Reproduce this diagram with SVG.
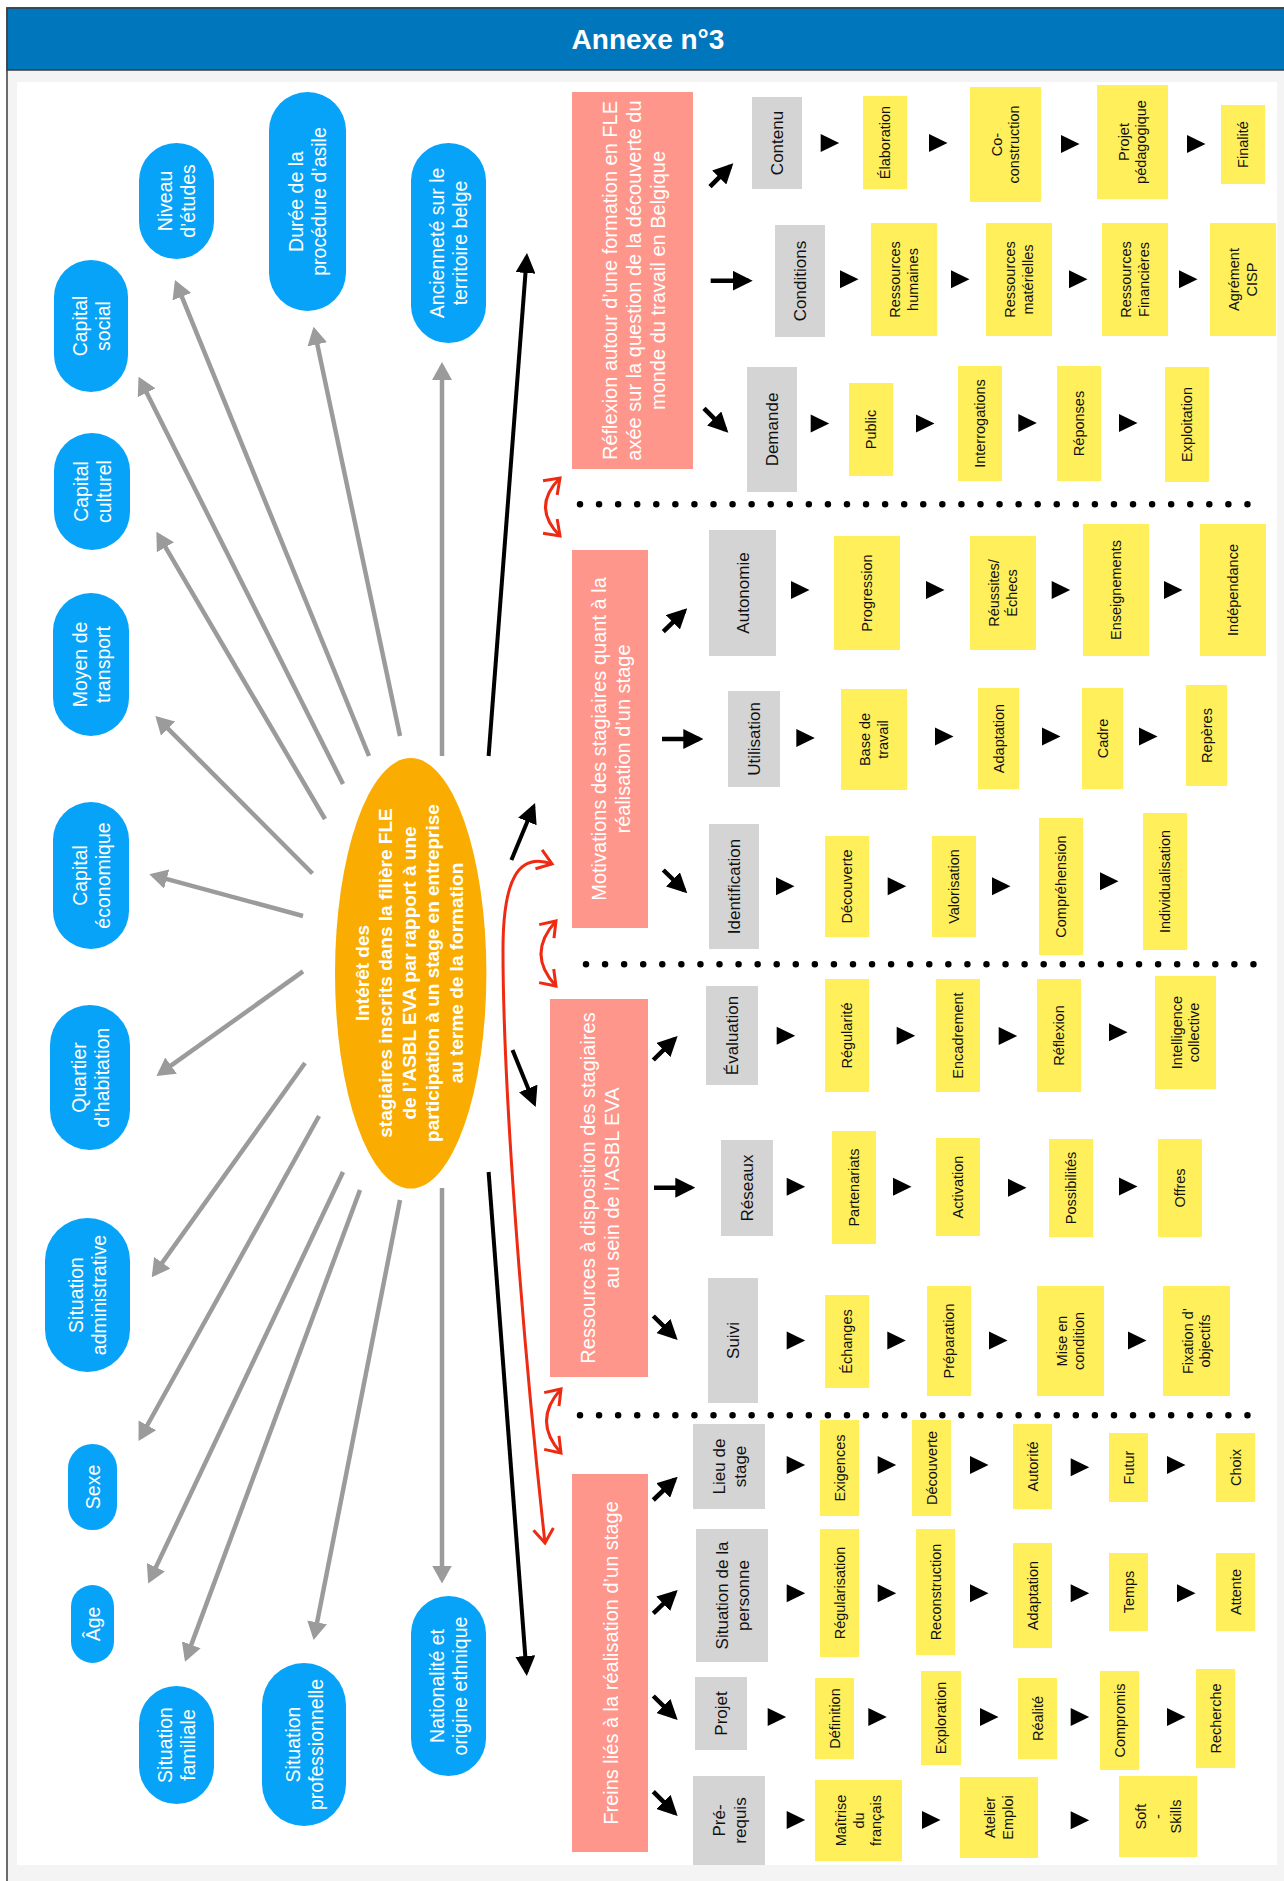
<svg xmlns="http://www.w3.org/2000/svg" width="1284" height="1881" viewBox="0 0 1284 1881">
<style>
.t{font-family:"Liberation Sans",Arial,Helvetica,sans-serif;text-anchor:middle}
.tw{fill:#fff}
.tk{fill:#111}
.fbl{font-size:19.5px}
.fpk{font-size:20px}
.fgr{font-size:17px}
.fye{font-size:14.5px}
.fel{font-size:19px;font-weight:bold}
.blue{fill:#06A3F9}
.pink{fill:#FE968B}
.gray{fill:#D4D4D4}
.yel{fill:#FFEF5B}
.ga{stroke:#9B9B9B;stroke-width:4.5;fill:none;marker-end:url(#mg)}
.ba{stroke:#000;stroke-width:4;fill:none;marker-end:url(#mb)}
.sa{stroke:#000;stroke-width:4.5;fill:none;marker-end:url(#mb)}
.ra{stroke:#EE2B12;stroke-width:3;fill:none;marker-start:url(#mr);marker-end:url(#mr)}
.dots{stroke:#000;stroke-width:6.5;stroke-linecap:round;stroke-dasharray:0 19.07;fill:none}
</style>
<defs>
<marker id="mg" viewBox="0 0 18 20" refX="14" refY="10" markerWidth="18" markerHeight="20" markerUnits="userSpaceOnUse" orient="auto"><path d="M0,0 L18,10 L0,20 z" fill="#9B9B9B"/></marker>
<marker id="mb" viewBox="0 0 20 20" refX="16" refY="10" markerWidth="20" markerHeight="20" markerUnits="userSpaceOnUse" orient="auto"><path d="M0,0 L20,10 L0,20 z" fill="#000"/></marker>
<marker id="mr" viewBox="-3 -3 22 26" refX="14" refY="10" markerWidth="22" markerHeight="26" markerUnits="userSpaceOnUse" orient="auto-start-reverse"><path d="M0,0 L14,10 L0,20" fill="none" stroke="#EE2B12" stroke-width="3"/></marker>
<path id="tri" d="M0,-9 L18.5,0 L0,9 z" fill="#000"/>
</defs>

<!-- page frame -->
<rect x="0" y="0" width="1284" height="1881" fill="#fff"/>
<rect x="7" y="8" width="1290" height="1885" fill="#F4F4F4" stroke="#3C3C3C" stroke-width="1.5"/>
<rect x="7" y="8" width="1290" height="62" fill="#0076BC" stroke="#3C3C3C" stroke-width="1.5"/>
<text class="t tw" x="648" y="49" style="font-size:28px;font-weight:bold">Annexe n°3</text>
<rect x="17" y="82" width="1260" height="1783" fill="#fff"/>

<!-- connectors -->
<g id="connectors">
  <!-- grey arrows from the centre to the factors -->
  <line class="ga" x1="369" y1="756" x2="176.5" y2="283.7"/>
  <line class="ga" x1="343" y1="784" x2="140.4" y2="380.3"/>
  <line class="ga" x1="400" y1="736" x2="314.4" y2="330.6"/>
  <line class="ga" x1="442" y1="756" x2="442" y2="366"/>
  <line class="ga" x1="325" y1="819" x2="158.4" y2="535.2"/>
  <line class="ga" x1="312.5" y1="873.5" x2="158.2" y2="718.8"/>
  <line class="ga" x1="303" y1="916" x2="153.2" y2="875.3"/>
  <line class="ga" x1="303" y1="971.4" x2="159.7" y2="1073.7"/>
  <line class="ga" x1="305" y1="1063" x2="154.1" y2="1274.1"/>
  <line class="ga" x1="319" y1="1116" x2="140.5" y2="1437.5"/>
  <line class="ga" x1="343" y1="1172" x2="149.9" y2="1579.9"/>
  <line class="ga" x1="360" y1="1190" x2="186.4" y2="1657.9"/>
  <line class="ga" x1="400" y1="1200" x2="314.4" y2="1636.1"/>
  <line class="ga" x1="442" y1="1188" x2="442" y2="1579.5"/>
  <!-- black arrows from the centre to the four themes -->
  <line class="ba" x1="488.6" y1="756" x2="526.7" y2="257"/>
  <line class="ba" x1="488.6" y1="1172" x2="526.5" y2="1672"/>
  <line class="ba" x1="511.4" y1="860" x2="533.5" y2="806.7"/>
  <line class="ba" x1="512.5" y1="1050" x2="534.2" y2="1103.3"/>
  <!-- red links between themes -->
  <path class="ra" d="M560,478 Q531,507 560,536"/>
  <path class="ra" d="M556,921 Q526,954 556,986"/>
  <path class="ra" d="M561,1389 Q532,1421 561,1453"/>
  <path class="ra" d="M552,864 C518,852 503,880 503,950 C503,1110 528,1390 545,1543"/>
  <!-- dotted separators -->
  <line class="dots" x1="580" y1="504.3" x2="1248" y2="504.3"/>
  <line class="dots" x1="586" y1="964.3" x2="1254" y2="964.3"/>
  <line class="dots" x1="580" y1="1415.3" x2="1248" y2="1415.3"/>
  <!-- theme to sub-theme arrows -->
  <line class="sa" x1="710" y1="186.7" x2="730.5" y2="166.1"/>
  <line class="sa" x1="710.7" y1="280.7" x2="748.7" y2="280.7"/>
  <line class="sa" x1="704" y1="408.3" x2="725.5" y2="429.9"/>
  <line class="sa" x1="663.3" y1="631.7" x2="684.4" y2="611.1"/>
  <line class="sa" x1="662" y1="739" x2="699.3" y2="739"/>
  <line class="sa" x1="663.3" y1="870" x2="684.4" y2="890.5"/>
  <line class="sa" x1="653.3" y1="1060" x2="674.8" y2="1038.8"/>
  <line class="sa" x1="654" y1="1187.7" x2="691.3" y2="1187.7"/>
  <line class="sa" x1="653.3" y1="1316" x2="674.8" y2="1337.2"/>
  <line class="sa" x1="653.3" y1="1500" x2="674.8" y2="1479.5"/>
  <line class="sa" x1="653.3" y1="1613.3" x2="674.8" y2="1592.8"/>
  <line class="sa" x1="653.3" y1="1696" x2="674.8" y2="1717.2"/>
  <line class="sa" x1="653.3" y1="1791.7" x2="674.8" y2="1813.2"/>
  <!-- chain triangles -->
  <use href="#tri" x="820.7" y="143"/><use href="#tri" x="929" y="143"/><use href="#tri" x="1061" y="144"/><use href="#tri" x="1187" y="144"/>
  <use href="#tri" x="840" y="279.3"/><use href="#tri" x="951" y="279.3"/><use href="#tri" x="1069" y="279.3"/><use href="#tri" x="1179" y="279.3"/>
  <use href="#tri" x="810.7" y="423.5"/><use href="#tri" x="916" y="423.5"/><use href="#tri" x="1018.3" y="423"/><use href="#tri" x="1119" y="423"/>
  <use href="#tri" x="791" y="590"/><use href="#tri" x="926" y="590"/><use href="#tri" x="1051.7" y="590"/><use href="#tri" x="1164" y="590"/>
  <use href="#tri" x="796.3" y="738"/><use href="#tri" x="935" y="736.5"/><use href="#tri" x="1042" y="736.5"/><use href="#tri" x="1139" y="736.5"/>
  <use href="#tri" x="776" y="886.3"/><use href="#tri" x="887.7" y="886.3"/><use href="#tri" x="992" y="886.3"/><use href="#tri" x="1100" y="881.3"/>
  <use href="#tri" x="776.7" y="1035.8"/><use href="#tri" x="896.7" y="1035.8"/><use href="#tri" x="998.7" y="1036"/><use href="#tri" x="1109" y="1032.2"/>
  <use href="#tri" x="786.7" y="1186.7"/><use href="#tri" x="893" y="1186.7"/><use href="#tri" x="1008" y="1187.8"/><use href="#tri" x="1119" y="1186.5"/>
  <use href="#tri" x="786.7" y="1340.5"/><use href="#tri" x="887.3" y="1340.5"/><use href="#tri" x="989" y="1340.5"/><use href="#tri" x="1128" y="1340.5"/>
  <use href="#tri" x="786.7" y="1465"/><use href="#tri" x="877.7" y="1465"/><use href="#tri" x="970" y="1465"/><use href="#tri" x="1070.7" y="1467.2"/><use href="#tri" x="1167" y="1465"/>
  <use href="#tri" x="786.7" y="1593.2"/><use href="#tri" x="877.7" y="1593.2"/><use href="#tri" x="970" y="1593.2"/><use href="#tri" x="1070.7" y="1593.2"/><use href="#tri" x="1177" y="1593.2"/>
  <use href="#tri" x="767.7" y="1717"/><use href="#tri" x="868.3" y="1717"/><use href="#tri" x="980" y="1717"/><use href="#tri" x="1070.7" y="1717"/><use href="#tri" x="1167" y="1717"/>
  <use href="#tri" x="786.7" y="1820"/><use href="#tri" x="922" y="1820"/><use href="#tri" x="1070.7" y="1820.3"/>
</g>

<!-- centre -->
<g id="centre">
  <ellipse cx="410.7" cy="973.3" rx="75.7" ry="215.3" fill="#FAAC00"/>
  <text class="t tw fel" transform="translate(409 973) rotate(-90)"><tspan x="0" y="-40.2">Intérêt des</tspan><tspan x="0" y="-16.7">stagiaires inscrits dans la filière FLE</tspan><tspan x="0" y="6.8">de l’ASBL EVA par rapport à une</tspan><tspan x="0" y="30.3">participation à un stage en entreprise</tspan><tspan x="0" y="53.8">au terme de la formation</tspan></text>
</g>

<!-- factors -->
<g id="niveau"><rect class="blue" x="139" y="143" width="75" height="116" rx="37.5"/><text class="t tw fbl" transform="translate(176.5 201) rotate(-90)"><tspan x="0" y="-4.5">Niveau</tspan><tspan x="0" y="18.5">d’études</tspan></text></g>
<g id="duree"><rect class="blue" x="269" y="92" width="77" height="219" rx="38.5"/><text class="t tw fbl" transform="translate(307.5 201.5) rotate(-90)"><tspan x="0" y="-4.5">Durée de la</tspan><tspan x="0" y="18.5">procédure d’asile</tspan></text></g>
<g id="anciennete"><rect class="blue" x="411" y="143" width="75" height="200" rx="37.5"/><text class="t tw fbl" transform="translate(448.5 243) rotate(-90)"><tspan x="0" y="-4.5">Ancienneté sur le</tspan><tspan x="0" y="18.5">territoire belge</tspan></text></g>
<g id="capital-social"><rect class="blue" x="54" y="260" width="74" height="132" rx="37"/><text class="t tw fbl" transform="translate(91 326) rotate(-90)"><tspan x="0" y="-4.5">Capital</tspan><tspan x="0" y="18.5">social</tspan></text></g>
<g id="capital-culturel"><rect class="blue" x="54" y="433" width="76" height="117" rx="38"/><text class="t tw fbl" transform="translate(92 491.5) rotate(-90)"><tspan x="0" y="-4.5">Capital</tspan><tspan x="0" y="18.5">culturel</tspan></text></g>
<g id="transport"><rect class="blue" x="53" y="593" width="76" height="143" rx="38"/><text class="t tw fbl" transform="translate(91 664.5) rotate(-90)"><tspan x="0" y="-4.5">Moyen de</tspan><tspan x="0" y="18.5">transport</tspan></text></g>
<g id="capital-economique"><rect class="blue" x="53" y="802" width="76" height="147" rx="38"/><text class="t tw fbl" transform="translate(91 875.5) rotate(-90)"><tspan x="0" y="-4.5">Capital</tspan><tspan x="0" y="18.5">économique</tspan></text></g>
<g id="quartier"><rect class="blue" x="50" y="1005" width="80" height="145" rx="40"/><text class="t tw fbl" transform="translate(90 1077.5) rotate(-90)"><tspan x="0" y="-4.5">Quartier</tspan><tspan x="0" y="18.5">d’habitation</tspan></text></g>
<g id="situation-administrative"><rect class="blue" x="45" y="1218" width="85" height="154" rx="42.5"/><text class="t tw fbl" transform="translate(87.5 1295) rotate(-90)"><tspan x="0" y="-4.5">Situation</tspan><tspan x="0" y="18.5">administrative</tspan></text></g>
<g id="sexe"><rect class="blue" x="68" y="1444" width="49" height="86" rx="24.5"/><text class="t tw fbl" transform="translate(92.5 1487) rotate(-90)"><tspan x="0" y="7">Sexe</tspan></text></g>
<g id="age"><rect class="blue" x="71" y="1585" width="43" height="78" rx="21.5"/><text class="t tw fbl" transform="translate(92.5 1624) rotate(-90)"><tspan x="0" y="7">Âge</tspan></text></g>
<g id="situation-familiale"><rect class="blue" x="139" y="1686" width="75" height="118" rx="37.5"/><text class="t tw fbl" transform="translate(176.5 1745) rotate(-90)"><tspan x="0" y="-4.5">Situation</tspan><tspan x="0" y="18.5">familiale</tspan></text></g>
<g id="situation-professionnelle"><rect class="blue" x="262" y="1663" width="84" height="163" rx="42"/><text class="t tw fbl" transform="translate(304 1744.5) rotate(-90)"><tspan x="0" y="-4.5">Situation</tspan><tspan x="0" y="18.5">professionnelle</tspan></text></g>
<g id="nationalite"><rect class="blue" x="411" y="1596" width="75" height="180" rx="37.5"/><text class="t tw fbl" transform="translate(448.5 1686) rotate(-90)"><tspan x="0" y="-4.5">Nationalité et</tspan><tspan x="0" y="18.5">origine ethnique</tspan></text></g>

<!-- themes -->
<g id="reflexion"><rect class="pink" x="572" y="92" width="121" height="377"/><text class="t tw fpk" transform="translate(634 280.5) rotate(-90)"><tspan x="0" y="-16.8">Réflexion autour d’une formation en FLE</tspan><tspan x="0" y="7.2">axée sur la question de la découverte du</tspan><tspan x="0" y="31.2">monde du travail en Belgique</tspan></text></g>
<g id="motivations"><rect class="pink" x="572" y="550" width="76" height="378"/><text class="t tw fpk" transform="translate(611 739) rotate(-90)"><tspan x="0" y="-4.8">Motivations des stagiaires quant à la</tspan><tspan x="0" y="19.2">réalisation d’un stage</tspan></text></g>
<g id="ressources"><rect class="pink" x="550" y="999" width="98" height="378"/><text class="t tw fpk" transform="translate(600 1188) rotate(-90)"><tspan x="0" y="-4.8">Ressources à disposition des stagiaires</tspan><tspan x="0" y="19.2">au sein de l’ASBL EVA</tspan></text></g>
<g id="freins"><rect class="pink" x="572" y="1474" width="76" height="378"/><text class="t tw fpk" transform="translate(611 1663) rotate(-90)"><tspan x="0" y="7.2">Freins liés à la réalisation d’un stage</tspan></text></g>

<!-- sub-themes -->
<g id="contenu"><rect class="gray" x="752" y="97" width="50" height="92"/><text class="t tk fgr" transform="translate(777 143) rotate(-90)"><tspan x="0" y="6.1">Contenu</tspan></text></g>
<g id="conditions"><rect class="gray" x="775" y="225" width="50" height="112"/><text class="t tk fgr" transform="translate(800 281) rotate(-90)"><tspan x="0" y="6.1">Conditions</tspan></text></g>
<g id="demande"><rect class="gray" x="747" y="367" width="50" height="125"/><text class="t tk fgr" transform="translate(772 429.5) rotate(-90)"><tspan x="0" y="6.1">Demande</tspan></text></g>
<g id="autonomie"><rect class="gray" x="709" y="530" width="67" height="126"/><text class="t tk fgr" transform="translate(742.5 593) rotate(-90)"><tspan x="0" y="6.1">Autonomie</tspan></text></g>
<g id="utilisation"><rect class="gray" x="728" y="691" width="52" height="96"/><text class="t tk fgr" transform="translate(754 739) rotate(-90)"><tspan x="0" y="6.1">Utilisation</tspan></text></g>
<g id="identification"><rect class="gray" x="709" y="824" width="50" height="125"/><text class="t tk fgr" transform="translate(734 886.5) rotate(-90)"><tspan x="0" y="6.1">Identification</tspan></text></g>
<g id="evaluation"><rect class="gray" x="706" y="986" width="52" height="99"/><text class="t tk fgr" transform="translate(732 1035.5) rotate(-90)"><tspan x="0" y="6.1">Évaluation</tspan></text></g>
<g id="reseaux"><rect class="gray" x="721" y="1140" width="52" height="96"/><text class="t tk fgr" transform="translate(747 1188) rotate(-90)"><tspan x="0" y="6.1">Réseaux</tspan></text></g>
<g id="suivi"><rect class="gray" x="708" y="1278" width="50" height="125"/><text class="t tk fgr" transform="translate(733 1340.5) rotate(-90)"><tspan x="0" y="6.1">Suivi</tspan></text></g>
<g id="lieu"><rect class="gray" x="693" y="1424" width="72" height="85"/><text class="t tk fgr" transform="translate(729 1466.5) rotate(-90)"><tspan x="0" y="-4.4">Lieu de</tspan><tspan x="0" y="16.6">stage</tspan></text></g>
<g id="situation-personne"><rect class="gray" x="696" y="1529" width="72" height="133"/><text class="t tk fgr" transform="translate(732 1595.5) rotate(-90)"><tspan x="0" y="-4.4">Situation de la</tspan><tspan x="0" y="16.6">personne</tspan></text></g>
<g id="projet"><rect class="gray" x="695" y="1677" width="52" height="73"/><text class="t tk fgr" transform="translate(721 1713.5) rotate(-90)"><tspan x="0" y="6.1">Projet</tspan></text></g>
<g id="prerequis"><rect class="gray" x="693" y="1776" width="72" height="89"/><text class="t tk fgr" transform="translate(729 1820.5) rotate(-90)"><tspan x="0" y="-4.4">Pré-</tspan><tspan x="0" y="16.6">requis</tspan></text></g>

<!-- steps -->
<g id="elaboration"><rect class="yel" x="863" y="96" width="44" height="93"/><text class="t tk fye" transform="translate(885 142.5) rotate(-90)"><tspan x="0" y="5.2">Élaboration</tspan></text></g>
<g id="co-construction"><rect class="yel" x="970" y="87" width="71" height="115"/><text class="t tk fye" transform="translate(1005.5 144.5) rotate(-90)"><tspan x="0" y="-3.55">Co-</tspan><tspan x="0" y="13.95">construction</tspan></text></g>
<g id="projet-pedagogique"><rect class="yel" x="1097" y="85" width="71" height="114"/><text class="t tk fye" transform="translate(1132.5 142) rotate(-90)"><tspan x="0" y="-3.55">Projet</tspan><tspan x="0" y="13.95">pédagogique</tspan></text></g>
<g id="finalite"><rect class="yel" x="1221" y="105" width="44" height="79"/><text class="t tk fye" transform="translate(1243 144.5) rotate(-90)"><tspan x="0" y="5.2">Finalité</tspan></text></g>
<g id="ress-humaines"><rect class="yel" x="871" y="223" width="66" height="113"/><text class="t tk fye" transform="translate(904 279.5) rotate(-90)"><tspan x="0" y="-3.55">Ressources</tspan><tspan x="0" y="13.95">humaines</tspan></text></g>
<g id="ress-materielles"><rect class="yel" x="986" y="223" width="66" height="113"/><text class="t tk fye" transform="translate(1019 279.5) rotate(-90)"><tspan x="0" y="-3.55">Ressources</tspan><tspan x="0" y="13.95">matérielles</tspan></text></g>
<g id="ress-financieres"><rect class="yel" x="1102" y="223" width="66" height="113"/><text class="t tk fye" transform="translate(1135 279.5) rotate(-90)"><tspan x="0" y="-3.55">Ressources</tspan><tspan x="0" y="13.95">Financières</tspan></text></g>
<g id="agrement"><rect class="yel" x="1210" y="223" width="66" height="113"/><text class="t tk fye" transform="translate(1243 279.5) rotate(-90)"><tspan x="0" y="-3.55">Agrément</tspan><tspan x="0" y="13.95">CISP</tspan></text></g>
<g id="public"><rect class="yel" x="849" y="383" width="44" height="93"/><text class="t tk fye" transform="translate(871 429.5) rotate(-90)"><tspan x="0" y="5.2">Public</tspan></text></g>
<g id="interrogations"><rect class="yel" x="958" y="366" width="44" height="115"/><text class="t tk fye" transform="translate(980 423.5) rotate(-90)"><tspan x="0" y="5.2">Interrogations</tspan></text></g>
<g id="reponses"><rect class="yel" x="1057" y="366" width="44" height="115"/><text class="t tk fye" transform="translate(1079 423.5) rotate(-90)"><tspan x="0" y="5.2">Réponses</tspan></text></g>
<g id="exploitation"><rect class="yel" x="1165" y="367" width="44" height="115"/><text class="t tk fye" transform="translate(1187 424.5) rotate(-90)"><tspan x="0" y="5.2">Exploitation</tspan></text></g>

<g id="progression"><rect class="yel" x="834" y="536" width="66" height="114"/><text class="t tk fye" transform="translate(867 593) rotate(-90)"><tspan x="0" y="5.2">Progression</tspan></text></g>
<g id="reussites"><rect class="yel" x="970" y="536" width="66" height="114"/><text class="t tk fye" transform="translate(1003 593) rotate(-90)"><tspan x="0" y="-3.55">Réussites/</tspan><tspan x="0" y="13.95">Échecs</tspan></text></g>
<g id="enseignements"><rect class="yel" x="1083" y="524" width="66" height="132"/><text class="t tk fye" transform="translate(1116 590) rotate(-90)"><tspan x="0" y="5.2">Enseignements</tspan></text></g>
<g id="independance"><rect class="yel" x="1200" y="524" width="66" height="132"/><text class="t tk fye" transform="translate(1233 590) rotate(-90)"><tspan x="0" y="5.2">Indépendance</tspan></text></g>
<g id="base-travail"><rect class="yel" x="841" y="689" width="66" height="101"/><text class="t tk fye" transform="translate(874 739.5) rotate(-90)"><tspan x="0" y="-3.55">Base de</tspan><tspan x="0" y="13.95">travail</tspan></text></g>
<g id="adaptation-1"><rect class="yel" x="978" y="688" width="41" height="101"/><text class="t tk fye" transform="translate(998.5 738.5) rotate(-90)"><tspan x="0" y="5.2">Adaptation</tspan></text></g>
<g id="cadre"><rect class="yel" x="1082" y="688" width="41" height="101"/><text class="t tk fye" transform="translate(1102.5 738.5) rotate(-90)"><tspan x="0" y="5.2">Cadre</tspan></text></g>
<g id="reperes"><rect class="yel" x="1186" y="685" width="41" height="101"/><text class="t tk fye" transform="translate(1206.5 735.5) rotate(-90)"><tspan x="0" y="5.2">Repères</tspan></text></g>
<g id="decouverte-1"><rect class="yel" x="825" y="836" width="44" height="101"/><text class="t tk fye" transform="translate(847 886.5) rotate(-90)"><tspan x="0" y="5.2">Découverte</tspan></text></g>
<g id="valorisation"><rect class="yel" x="932" y="836" width="44" height="101"/><text class="t tk fye" transform="translate(954 886.5) rotate(-90)"><tspan x="0" y="5.2">Valorisation</tspan></text></g>
<g id="comprehension"><rect class="yel" x="1039" y="818" width="44" height="137"/><text class="t tk fye" transform="translate(1061 886.5) rotate(-90)"><tspan x="0" y="5.2">Compréhension</tspan></text></g>
<g id="individualisation"><rect class="yel" x="1143" y="813" width="44" height="137"/><text class="t tk fye" transform="translate(1165 881.5) rotate(-90)"><tspan x="0" y="5.2">Individualisation</tspan></text></g>

<g id="regularite"><rect class="yel" x="825" y="979" width="44" height="113"/><text class="t tk fye" transform="translate(847 1035.5) rotate(-90)"><tspan x="0" y="5.2">Régularité</tspan></text></g>
<g id="encadrement"><rect class="yel" x="936" y="979" width="44" height="113"/><text class="t tk fye" transform="translate(958 1035.5) rotate(-90)"><tspan x="0" y="5.2">Encadrement</tspan></text></g>
<g id="reflexion-step"><rect class="yel" x="1037" y="979" width="44" height="113"/><text class="t tk fye" transform="translate(1059 1035.5) rotate(-90)"><tspan x="0" y="5.2">Réflexion</tspan></text></g>
<g id="intelligence"><rect class="yel" x="1155" y="976" width="61" height="113"/><text class="t tk fye" transform="translate(1185.5 1032.5) rotate(-90)"><tspan x="0" y="-3.55">Intelligence</tspan><tspan x="0" y="13.95">collective</tspan></text></g>
<g id="partenariats"><rect class="yel" x="832" y="1131" width="44" height="113"/><text class="t tk fye" transform="translate(854 1187.5) rotate(-90)"><tspan x="0" y="5.2">Partenariats</tspan></text></g>
<g id="activation"><rect class="yel" x="936" y="1138" width="44" height="98"/><text class="t tk fye" transform="translate(958 1187) rotate(-90)"><tspan x="0" y="5.2">Activation</tspan></text></g>
<g id="possibilites"><rect class="yel" x="1049" y="1139" width="44" height="98"/><text class="t tk fye" transform="translate(1071 1188) rotate(-90)"><tspan x="0" y="5.2">Possibilités</tspan></text></g>
<g id="offres"><rect class="yel" x="1158" y="1139" width="44" height="98"/><text class="t tk fye" transform="translate(1180 1188) rotate(-90)"><tspan x="0" y="5.2">Offres</tspan></text></g>
<g id="echanges"><rect class="yel" x="825" y="1295" width="44" height="93"/><text class="t tk fye" transform="translate(847 1341.5) rotate(-90)"><tspan x="0" y="5.2">Échanges</tspan></text></g>
<g id="preparation"><rect class="yel" x="927" y="1286" width="44" height="110"/><text class="t tk fye" transform="translate(949 1341) rotate(-90)"><tspan x="0" y="5.2">Préparation</tspan></text></g>
<g id="mise-en-condition"><rect class="yel" x="1037" y="1286" width="67" height="110"/><text class="t tk fye" transform="translate(1070.5 1341) rotate(-90)"><tspan x="0" y="-3.55">Mise en</tspan><tspan x="0" y="13.95">condition</tspan></text></g>
<g id="fixation"><rect class="yel" x="1163" y="1286" width="67" height="110"/><text class="t tk fye" transform="translate(1196.5 1341) rotate(-90)"><tspan x="0" y="-3.55">Fixation d’</tspan><tspan x="0" y="13.95">objectifs</tspan></text></g>

<g id="exigences"><rect class="yel" x="820" y="1420" width="39" height="96"/><text class="t tk fye" transform="translate(839.5 1468) rotate(-90)"><tspan x="0" y="5.2">Exigences</tspan></text></g>
<g id="decouverte-2"><rect class="yel" x="912" y="1420" width="39" height="96"/><text class="t tk fye" transform="translate(931.5 1468) rotate(-90)"><tspan x="0" y="5.2">Découverte</tspan></text></g>
<g id="autorite"><rect class="yel" x="1013" y="1424" width="39" height="85"/><text class="t tk fye" transform="translate(1032.5 1466.5) rotate(-90)"><tspan x="0" y="5.2">Autorité</tspan></text></g>
<g id="futur"><rect class="yel" x="1109" y="1433" width="39" height="69"/><text class="t tk fye" transform="translate(1128.5 1467.5) rotate(-90)"><tspan x="0" y="5.2">Futur</tspan></text></g>
<g id="choix"><rect class="yel" x="1216" y="1433" width="39" height="69"/><text class="t tk fye" transform="translate(1235.5 1467.5) rotate(-90)"><tspan x="0" y="5.2">Choix</tspan></text></g>
<g id="regularisation"><rect class="yel" x="820" y="1529" width="39" height="128"/><text class="t tk fye" transform="translate(839.5 1593) rotate(-90)"><tspan x="0" y="5.2">Régularisation</tspan></text></g>
<g id="reconstruction"><rect class="yel" x="916" y="1529" width="39" height="126"/><text class="t tk fye" transform="translate(935.5 1592) rotate(-90)"><tspan x="0" y="5.2">Reconstruction</tspan></text></g>
<g id="adaptation-2"><rect class="yel" x="1013" y="1543" width="39" height="105"/><text class="t tk fye" transform="translate(1032.5 1595.5) rotate(-90)"><tspan x="0" y="5.2">Adaptation</tspan></text></g>
<g id="temps"><rect class="yel" x="1109" y="1553" width="39" height="78"/><text class="t tk fye" transform="translate(1128.5 1592) rotate(-90)"><tspan x="0" y="5.2">Temps</tspan></text></g>
<g id="attente"><rect class="yel" x="1216" y="1553" width="39" height="78"/><text class="t tk fye" transform="translate(1235.5 1592) rotate(-90)"><tspan x="0" y="5.2">Attente</tspan></text></g>
<g id="definition"><rect class="yel" x="815" y="1678" width="39" height="81"/><text class="t tk fye" transform="translate(834.5 1718.5) rotate(-90)"><tspan x="0" y="5.2">Définition</tspan></text></g>
<g id="exploration"><rect class="yel" x="921" y="1671" width="40" height="94"/><text class="t tk fye" transform="translate(941 1718) rotate(-90)"><tspan x="0" y="5.2">Exploration</tspan></text></g>
<g id="realite"><rect class="yel" x="1018" y="1678" width="39" height="81"/><text class="t tk fye" transform="translate(1037.5 1718.5) rotate(-90)"><tspan x="0" y="5.2">Réalité</tspan></text></g>
<g id="compromis"><rect class="yel" x="1100" y="1671" width="39" height="99"/><text class="t tk fye" transform="translate(1119.5 1720.5) rotate(-90)"><tspan x="0" y="5.2">Compromis</tspan></text></g>
<g id="recherche"><rect class="yel" x="1196" y="1669" width="39" height="99"/><text class="t tk fye" transform="translate(1215.5 1718.5) rotate(-90)"><tspan x="0" y="5.2">Recherche</tspan></text></g>
<g id="maitrise"><rect class="yel" x="815" y="1780" width="87" height="81"/><text class="t tk fye" transform="translate(858.5 1820.5) rotate(-90)"><tspan x="0" y="-12.3">Maîtrise</tspan><tspan x="0" y="5.2">du</tspan><tspan x="0" y="22.7">français</tspan></text></g>
<g id="atelier"><rect class="yel" x="960" y="1777" width="78" height="81"/><text class="t tk fye" transform="translate(999 1817.5) rotate(-90)"><tspan x="0" y="-3.55">Atelier</tspan><tspan x="0" y="13.95">Emploi</tspan></text></g>
<g id="soft-skills"><rect class="yel" x="1119" y="1776" width="78" height="81"/><text class="t tk fye" transform="translate(1158 1816.5) rotate(-90)"><tspan x="0" y="-12.3">Soft</tspan><tspan x="0" y="5.2">-</tspan><tspan x="0" y="22.7">Skills</tspan></text></g>
</svg>
